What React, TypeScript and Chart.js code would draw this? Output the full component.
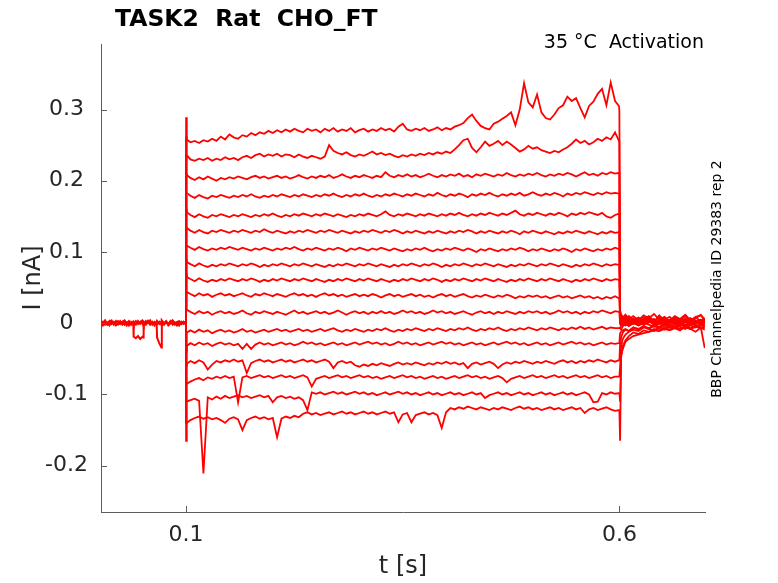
import { useEffect, useRef } from "react";
import { Chart, registerables } from "chart.js";

Chart.register(...registerables);

// ---- time bases (s) ----
const tPre = [
  0.0018, 0.004, 0.0065, 0.009, 0.0115, 0.014, 0.0165, 0.019, 0.0215, 0.024,
  0.0265, 0.029, 0.0315, 0.034, 0.0365, 0.039, 0.0395, 0.042, 0.0445, 0.047,
  0.0495, 0.0505, 0.051, 0.0535, 0.056, 0.0585, 0.061, 0.0635, 0.066, 0.0665,
  0.069, 0.0715, 0.072, 0.0745, 0.077, 0.0795, 0.082, 0.0845, 0.087, 0.0895,
  0.092, 0.0945, 0.097, 0.0998,
];

const tOn = [
  0.0998, 0.1, 0.1008,
  0.105, 0.11, 0.115, 0.12, 0.125, 0.13, 0.135, 0.14, 0.145, 0.15,
  0.155, 0.16, 0.165, 0.17, 0.175, 0.18, 0.185, 0.19, 0.195, 0.2,
  0.205, 0.21, 0.215, 0.22, 0.225, 0.23, 0.235, 0.24, 0.245, 0.25,
  0.255, 0.26, 0.265, 0.27, 0.275, 0.28, 0.285, 0.29, 0.295, 0.3,
  0.305, 0.31, 0.315, 0.32, 0.325, 0.33, 0.335, 0.34, 0.345, 0.35,
  0.355, 0.36, 0.365, 0.37, 0.375, 0.38, 0.385, 0.39, 0.395, 0.4,
  0.405, 0.41, 0.415, 0.42, 0.425, 0.43, 0.435, 0.44, 0.445, 0.45,
  0.455, 0.46, 0.465, 0.47, 0.475, 0.48, 0.485, 0.49, 0.495, 0.5,
  0.505, 0.51, 0.515, 0.52, 0.525, 0.53, 0.535, 0.54, 0.545, 0.55,
  0.555, 0.56, 0.565, 0.57, 0.575, 0.58, 0.585, 0.59, 0.595,
  0.5995,
];

const tOff = [
  0.6, 0.6008, 0.602, 0.604, 0.607, 0.611, 0.616, 0.622, 0.628, 0.634,
  0.64, 0.646, 0.652, 0.658, 0.664, 0.67, 0.676, 0.682, 0.688, 0.694, 0.6985,
];

// ---- holding current before the step (nA) ----
const preA = [
  0.002, -0.003, 0.001, -0.002, 0.003, -0.001, 0.002, -0.003, 0.0, 0.003,
  -0.002, 0.001, -0.003, 0.002, -0.001, 0.001, -0.019, -0.021, -0.018, -0.022,
  -0.019, -0.02, 0.001, -0.002, 0.003, -0.001, 0.002, -0.003, 0.001, -0.001,
  0.002, -0.002, 0.003, -0.001, 0.002, -0.003, 0.0, 0.003, -0.002, 0.001,
  -0.003, 0.002, -0.001, 0.0,
];
const preB = [
  -0.001, 0.002, -0.002, 0.001, -0.003, 0.002, -0.001, 0.003, -0.002, 0.0,
  0.002, -0.002, 0.001, -0.003, 0.002, -0.001, 0.001, -0.002, 0.003, -0.001,
  0.001, -0.002, 0.002, -0.001, 0.003, -0.002, 0.001, -0.001, 0.002, -0.02,
  -0.028, -0.034, 0.001, -0.002, 0.002, -0.001, 0.003, -0.002, 0.001, -0.003,
  0.002, -0.001, 0.002, 0.0,
];
const preC = [
  0.003, 0.0, 0.004, -0.001, 0.002, 0.004, -0.002, 0.001, 0.003, -0.001,
  0.002, 0.004, 0.0, 0.003, -0.002, 0.002, 0.0, 0.003, -0.001, 0.002,
  0.004, 0.001, -0.001, 0.003, 0.0, 0.004, -0.002, 0.002, 0.0, 0.003,
  -0.001, 0.002, 0.004, 0.0, 0.003, -0.002, 0.001, 0.004, 0.0, 0.002,
  0.003, -0.001, 0.002, 0.0,
];

// ---- sweeps: values on tOn followed by values on tOff (nA) ----
const sweep01 = [
  0.0, 0.289, 0.258,
  0.254, 0.256, 0.253, 0.257, 0.255, 0.259, 0.256, 0.262, 0.258, 0.265,
  0.261, 0.259, 0.264, 0.262, 0.267, 0.264, 0.268, 0.266, 0.27, 0.267,
  0.271, 0.268, 0.272, 0.269, 0.273, 0.27, 0.268, 0.273, 0.27, 0.272,
  0.268, 0.273, 0.27, 0.274, 0.269, 0.272, 0.27, 0.274, 0.268, 0.271,
  0.273, 0.269, 0.272, 0.27, 0.274, 0.271, 0.273, 0.269, 0.276, 0.28,
  0.272, 0.27, 0.273, 0.271, 0.274, 0.27, 0.272, 0.275, 0.271, 0.274,
  0.272, 0.276, 0.278, 0.281, 0.288, 0.293, 0.284, 0.277, 0.274, 0.272,
  0.28, 0.283, 0.287, 0.291, 0.296, 0.278, 0.3, 0.337, 0.31, 0.303,
  0.321, 0.296, 0.288, 0.286, 0.293, 0.302, 0.306, 0.318, 0.312, 0.316,
  0.302, 0.289, 0.305, 0.311, 0.322, 0.329, 0.306, 0.338, 0.312,
  0.305,
  0.298, 0.016, 0.011, 0.008, 0.012, 0.006, 0.01, 0.004, 0.011, 0.007,
  0.013, 0.005, 0.009, 0.003, 0.01, 0.006, 0.012, 0.004, 0.009, 0.011, 0.006,
];
const sweep02 = [
  0.001, 0.262, 0.236,
  0.23, 0.228, 0.231, 0.229, 0.232, 0.228, 0.231, 0.229, 0.233, 0.23,
  0.232, 0.229, 0.233, 0.235, 0.232, 0.236, 0.238, 0.234, 0.237, 0.235,
  0.238, 0.234, 0.237, 0.236, 0.233, 0.237, 0.234, 0.232, 0.235, 0.233,
  0.231, 0.234, 0.25, 0.242, 0.239, 0.237, 0.24, 0.236, 0.234, 0.237,
  0.235, 0.238, 0.241, 0.237, 0.239, 0.236, 0.238, 0.235, 0.233, 0.236,
  0.234, 0.237, 0.235, 0.238, 0.236, 0.239, 0.237, 0.24, 0.238, 0.241,
  0.239, 0.244, 0.25, 0.257, 0.259, 0.246, 0.24, 0.247, 0.255, 0.249,
  0.252, 0.256, 0.25, 0.255, 0.251, 0.246, 0.241, 0.244, 0.249, 0.245,
  0.247, 0.243, 0.241, 0.239, 0.242, 0.24, 0.244, 0.247, 0.252, 0.258,
  0.253, 0.256, 0.251, 0.254, 0.259, 0.256, 0.261, 0.258, 0.268,
  0.256,
  0.256, 0.012, 0.008, 0.004, 0.009, 0.003, 0.007, 0.001, 0.006, 0.01,
  0.003, 0.008, 0.0, 0.005, 0.009, 0.002, 0.006, 0.001, 0.008, 0.003, 0.006,
];
const sweep03 = [
  -0.001, 0.235, 0.208,
  0.204, 0.201, 0.205, 0.202, 0.206, 0.203, 0.2, 0.204, 0.202, 0.205,
  0.203, 0.206, 0.204, 0.202, 0.205, 0.207, 0.204, 0.206, 0.203, 0.205,
  0.207, 0.204, 0.206, 0.203, 0.205, 0.208, 0.205, 0.203, 0.206, 0.204,
  0.207, 0.205, 0.208, 0.204, 0.206, 0.209, 0.206, 0.204, 0.207, 0.205,
  0.208, 0.206, 0.204, 0.207, 0.205, 0.212, 0.207, 0.205, 0.208, 0.206,
  0.209, 0.206, 0.208, 0.205, 0.207, 0.21, 0.207, 0.205, 0.208, 0.206,
  0.209, 0.207, 0.21, 0.206, 0.208, 0.205, 0.209, 0.207, 0.21, 0.208,
  0.206, 0.209, 0.207, 0.211, 0.208, 0.206, 0.209, 0.207, 0.21, 0.208,
  0.211, 0.208, 0.206, 0.209, 0.207, 0.21, 0.208, 0.211, 0.209, 0.206,
  0.209, 0.212, 0.208, 0.21, 0.207, 0.211, 0.209, 0.212, 0.21,
  0.211,
  0.211, 0.018, 0.012, 0.009, 0.005, 0.01, 0.004, 0.008, 0.003, 0.009,
  0.002, 0.011, 0.004, 0.001, 0.008, 0.003, 0.01, 0.002, 0.007, 0.012, 0.003,
];
const sweep04 = [
  0.002, 0.21, 0.183,
  0.179, 0.176, 0.18, 0.177, 0.175, 0.179, 0.177, 0.18, 0.178, 0.176,
  0.179, 0.177, 0.18, 0.178, 0.181, 0.178, 0.176, 0.179, 0.177, 0.18,
  0.178, 0.181, 0.179, 0.177, 0.18, 0.178, 0.181, 0.179, 0.177, 0.18,
  0.178, 0.181, 0.179, 0.182, 0.179, 0.177, 0.18, 0.178, 0.181, 0.179,
  0.182, 0.179, 0.177, 0.18, 0.178, 0.181, 0.179, 0.182, 0.18, 0.178,
  0.181, 0.179, 0.182, 0.18, 0.178, 0.181, 0.179, 0.183, 0.18, 0.178,
  0.181, 0.179, 0.182, 0.18, 0.177, 0.181, 0.179, 0.182, 0.18, 0.183,
  0.18, 0.178, 0.181, 0.179, 0.182, 0.18, 0.183, 0.179, 0.181, 0.184,
  0.181, 0.179, 0.182, 0.18, 0.183, 0.181, 0.178, 0.182, 0.18, 0.183,
  0.181, 0.184, 0.182, 0.18, 0.183, 0.181, 0.184, 0.182, 0.183,
  0.182,
  0.182, 0.013, 0.008, 0.005, 0.003, 0.007, 0.002, 0.005, 0.008, 0.003,
  0.006, 0.001, 0.005, 0.009, 0.002, 0.006, 0.003, 0.007, 0.001, 0.004, 0.006,
];
const sweep05 = [
  -0.002, 0.18, 0.156,
  0.152, 0.149, 0.153, 0.15, 0.148, 0.152, 0.15, 0.153, 0.151, 0.149,
  0.152, 0.15, 0.153, 0.151, 0.149, 0.152, 0.15, 0.153, 0.151, 0.154,
  0.151, 0.149, 0.152, 0.15, 0.153, 0.151, 0.154, 0.152, 0.15, 0.153,
  0.151, 0.154, 0.152, 0.15, 0.153, 0.151, 0.149, 0.152, 0.15, 0.153,
  0.151, 0.154, 0.152, 0.15, 0.153, 0.157, 0.152, 0.15, 0.153, 0.151,
  0.154, 0.152, 0.15, 0.153, 0.151, 0.154, 0.152, 0.15, 0.153, 0.151,
  0.154, 0.152, 0.155, 0.152, 0.15, 0.153, 0.151, 0.154, 0.152, 0.155,
  0.153, 0.151, 0.154, 0.152, 0.155, 0.158, 0.153, 0.151, 0.154, 0.152,
  0.155, 0.153, 0.151, 0.154, 0.152, 0.155, 0.153, 0.15, 0.154, 0.152,
  0.155, 0.153, 0.156, 0.154, 0.152, 0.155, 0.15, 0.148, 0.152,
  0.154,
  0.154, 0.011, 0.006, 0.004, 0.007, 0.002, 0.005, 0.001, 0.004, 0.007,
  0.003, 0.0, 0.005, 0.002, 0.006, 0.001, 0.004, 0.007, 0.002, 0.005, 0.003,
];
const sweep06 = [
  0.001, 0.16, 0.134,
  0.13, 0.127, 0.131, 0.128, 0.126, 0.13, 0.128, 0.131, 0.129, 0.127,
  0.13, 0.128, 0.131, 0.129, 0.127, 0.13, 0.128, 0.132, 0.129, 0.127,
  0.13, 0.128, 0.126, 0.129, 0.127, 0.13, 0.128, 0.131, 0.129, 0.127,
  0.13, 0.128, 0.131, 0.129, 0.127, 0.13, 0.128, 0.126, 0.129, 0.127,
  0.13, 0.128, 0.131, 0.129, 0.127, 0.13, 0.128, 0.131, 0.129, 0.126,
  0.129, 0.127, 0.13, 0.128, 0.126, 0.129, 0.127, 0.13, 0.128, 0.126,
  0.129, 0.127, 0.13, 0.128, 0.131, 0.129, 0.126, 0.129, 0.127, 0.13,
  0.128, 0.126, 0.129, 0.127, 0.13, 0.128, 0.125, 0.129, 0.127, 0.13,
  0.128, 0.126, 0.129, 0.127, 0.125, 0.128, 0.126, 0.129, 0.127, 0.13,
  0.128, 0.126, 0.129, 0.127, 0.125, 0.128, 0.126, 0.129, 0.127,
  0.128,
  0.128, 0.009, 0.005, 0.002, 0.006, 0.001, 0.004, 0.007, 0.002, 0.005,
  0.0, 0.004, 0.006, 0.001, 0.005, 0.002, 0.006, 0.003, 0.0, 0.004, 0.002,
];
const sweep07 = [
  -0.001, 0.135, 0.109,
  0.106, 0.103, 0.107, 0.104, 0.102, 0.105, 0.103, 0.106, 0.104, 0.107,
  0.105, 0.103, 0.106, 0.104, 0.102, 0.105, 0.103, 0.106, 0.104, 0.102,
  0.105, 0.103, 0.106, 0.104, 0.107, 0.104, 0.102, 0.105, 0.103, 0.106,
  0.104, 0.102, 0.105, 0.103, 0.106, 0.104, 0.101, 0.105, 0.103, 0.106,
  0.104, 0.102, 0.105, 0.103, 0.106, 0.104, 0.102, 0.105, 0.103, 0.101,
  0.104, 0.102, 0.105, 0.103, 0.106, 0.103, 0.101, 0.104, 0.102, 0.105,
  0.103, 0.106, 0.104, 0.102, 0.105, 0.103, 0.1, 0.104, 0.102, 0.105,
  0.103, 0.101, 0.104, 0.102, 0.105, 0.103, 0.106, 0.104, 0.101, 0.104,
  0.102, 0.105, 0.103, 0.101, 0.104, 0.102, 0.105, 0.103, 0.1, 0.104,
  0.102, 0.105, 0.103, 0.101, 0.104, 0.102, 0.105, 0.103, 0.106,
  0.104,
  0.104, 0.007, 0.003, 0.001, 0.005, -0.001, 0.003, 0.006, 0.001, 0.004,
  -0.002, 0.003, 0.006, 0.0, 0.004, 0.001, 0.005, 0.002, -0.001, 0.003, 0.001,
];
const sweep08 = [
  0.002, 0.11, 0.086,
  0.083, 0.08, 0.084, 0.081, 0.079, 0.082, 0.08, 0.083, 0.081, 0.084,
  0.082, 0.08, 0.083, 0.081, 0.084, 0.082, 0.079, 0.082, 0.08, 0.083,
  0.081, 0.084, 0.082, 0.08, 0.083, 0.081, 0.084, 0.082, 0.08, 0.083,
  0.081, 0.079, 0.082, 0.08, 0.083, 0.081, 0.084, 0.082, 0.08, 0.083,
  0.081, 0.084, 0.082, 0.08, 0.083, 0.081, 0.079, 0.082, 0.08, 0.083,
  0.081, 0.084, 0.082, 0.08, 0.083, 0.081, 0.084, 0.082, 0.079, 0.082,
  0.08, 0.083, 0.081, 0.084, 0.082, 0.08, 0.083, 0.081, 0.084, 0.082,
  0.08, 0.083, 0.081, 0.079, 0.082, 0.08, 0.083, 0.081, 0.084, 0.082,
  0.08, 0.083, 0.081, 0.084, 0.082, 0.08, 0.083, 0.081, 0.079, 0.082,
  0.08, 0.083, 0.081, 0.084, 0.082, 0.08, 0.083, 0.081, 0.083,
  0.082,
  0.082, 0.005, 0.002, -0.001, 0.003, 0.0, 0.004, -0.002, 0.002, 0.005,
  0.0, 0.003, -0.001, 0.004, 0.001, -0.002, 0.003, 0.0, 0.004, 0.001, 0.002,
];
const sweep09 = [
  -0.002, 0.09, 0.065,
  0.062, 0.059, 0.063, 0.06, 0.058, 0.061, 0.059, 0.062, 0.06, 0.063,
  0.061, 0.059, 0.062, 0.06, 0.063, 0.061, 0.058, 0.061, 0.059, 0.062,
  0.06, 0.063, 0.061, 0.059, 0.062, 0.06, 0.063, 0.061, 0.059, 0.062,
  0.06, 0.058, 0.061, 0.059, 0.062, 0.06, 0.063, 0.061, 0.059, 0.062,
  0.06, 0.063, 0.061, 0.059, 0.062, 0.06, 0.058, 0.061, 0.059, 0.062,
  0.06, 0.063, 0.061, 0.059, 0.062, 0.06, 0.063, 0.061, 0.058, 0.061,
  0.059, 0.062, 0.06, 0.063, 0.061, 0.059, 0.062, 0.06, 0.063, 0.061,
  0.059, 0.062, 0.06, 0.058, 0.061, 0.059, 0.062, 0.06, 0.063, 0.061,
  0.059, 0.062, 0.06, 0.063, 0.061, 0.059, 0.062, 0.06, 0.058, 0.061,
  0.059, 0.062, 0.06, 0.063, 0.061, 0.059, 0.062, 0.06, 0.062,
  0.061,
  0.061, 0.003, 0.0, -0.002, 0.002, -0.001, 0.003, -0.003, 0.001, 0.004,
  -0.001, 0.002, -0.002, 0.003, 0.0, -0.003, 0.002, -0.001, 0.003, 0.0, 0.001,
];
const sweep10 = [
  0.001, 0.07, 0.044,
  0.041, 0.038, 0.042, 0.039, 0.041, 0.037, 0.04, 0.042, 0.039, 0.041,
  0.038, 0.04, 0.042, 0.039, 0.037, 0.041, 0.039, 0.042, 0.04, 0.038,
  0.041, 0.039, 0.037, 0.04, 0.042, 0.039, 0.041, 0.038, 0.04, 0.037,
  0.04, 0.042, 0.039, 0.041, 0.038, 0.04, 0.037, 0.039, 0.041, 0.038,
  0.04, 0.038, 0.041, 0.039, 0.036, 0.039, 0.041, 0.038, 0.04, 0.037,
  0.039, 0.041, 0.038, 0.04, 0.037, 0.039, 0.036, 0.039, 0.041, 0.038,
  0.04, 0.037, 0.039, 0.041, 0.038, 0.036, 0.039, 0.037, 0.04, 0.038,
  0.036, 0.039, 0.037, 0.04, 0.038, 0.035, 0.038, 0.036, 0.039, 0.037,
  0.039, 0.036, 0.038, 0.035, 0.037, 0.039, 0.036, 0.038, 0.035, 0.037,
  0.039, 0.036, 0.038, 0.035, 0.037, 0.034, 0.037, 0.035, 0.038,
  0.035,
  0.035, 0.002, -0.002, 0.001, -0.003, 0.002, -0.001, 0.003, -0.002, 0.001,
  0.004, -0.001, 0.002, -0.003, 0.001, 0.003, -0.002, 0.001, -0.001, 0.002, 0.0,
];
const sweep11 = [
  -0.001, 0.045, 0.019,
  0.016, 0.013, 0.017, 0.014, 0.016, 0.012, 0.015, 0.017, 0.014, 0.016,
  0.013, 0.015, 0.018, 0.014, 0.012, 0.016, 0.014, 0.017, 0.015, 0.013,
  0.016, 0.014, 0.012, 0.015, 0.018, 0.014, 0.016, 0.013, 0.015, 0.017,
  0.014, 0.016, 0.013, 0.015, 0.018, 0.015, 0.012, 0.015, 0.017, 0.014,
  0.016, 0.013, 0.016, 0.014, 0.017, 0.014, 0.016, 0.013, 0.015, 0.018,
  0.015, 0.017, 0.014, 0.016, 0.013, 0.015, 0.018, 0.015, 0.017, 0.014,
  0.016, 0.013, 0.015, 0.017, 0.014, 0.012, 0.015, 0.017, 0.014, 0.016,
  0.013, 0.016, 0.014, 0.017, 0.015, 0.013, 0.016, 0.014, 0.017, 0.015,
  0.017, 0.014, 0.016, 0.013, 0.015, 0.018, 0.015, 0.017, 0.014, 0.016,
  0.013, 0.016, 0.014, 0.017, 0.015, 0.018, 0.016, 0.014, 0.017,
  0.016,
  0.016, -0.001, -0.004, -0.001, 0.002, -0.002, 0.001, -0.003, 0.0, 0.003,
  -0.002, 0.001, -0.003, 0.002, -0.001, 0.001, -0.004, 0.0, 0.002, -0.002, 0.0,
];
const sweep12 = [
  0.002, -0.04, -0.013,
  -0.01, -0.013, -0.009, -0.012, -0.01, -0.014, -0.011, -0.009, -0.012, -0.01,
  -0.013, -0.011, -0.008, -0.012, -0.01, -0.013, -0.011, -0.009, -0.012, -0.01,
  -0.008, -0.011, -0.009, -0.012, -0.01, -0.008, -0.011, -0.009, -0.012, -0.01,
  -0.008, -0.011, -0.009, -0.007, -0.01, -0.012, -0.009, -0.011, -0.008, -0.01,
  -0.012, -0.009, -0.011, -0.008, -0.01, -0.007, -0.01, -0.012, -0.009, -0.011,
  -0.008, -0.01, -0.007, -0.009, -0.011, -0.008, -0.01, -0.007, -0.009, -0.011,
  -0.008, -0.01, -0.007, -0.009, -0.006, -0.009, -0.011, -0.008, -0.01, -0.007,
  -0.009, -0.006, -0.009, -0.011, -0.008, -0.01, -0.007, -0.009, -0.006, -0.008,
  -0.01, -0.007, -0.009, -0.006, -0.008, -0.01, -0.007, -0.009, -0.006, -0.008,
  -0.005, -0.008, -0.006, -0.009, -0.007, -0.005, -0.008, -0.006, -0.007,
  -0.007,
  -0.007, -0.006, -0.009, -0.004, -0.001, -0.004, 0.0, -0.003, 0.001, -0.002,
  -0.005, 0.0, -0.003, 0.002, -0.002, 0.0, -0.004, -0.001, 0.001, -0.003, -0.001,
];
const sweep13 = [
  -0.001, -0.06, -0.032,
  -0.028, -0.031, -0.027, -0.03, -0.028, -0.032, -0.029, -0.027, -0.03, -0.028,
  -0.031, -0.029, -0.036, -0.029, -0.036, -0.03, -0.027, -0.03, -0.028, -0.031,
  -0.029, -0.027, -0.03, -0.028, -0.031, -0.029, -0.026, -0.029, -0.027, -0.03,
  -0.028, -0.031, -0.029, -0.027, -0.03, -0.028, -0.031, -0.029, -0.027, -0.03,
  -0.028, -0.026, -0.029, -0.027, -0.03, -0.028, -0.031, -0.029, -0.026, -0.029,
  -0.027, -0.03, -0.028, -0.031, -0.029, -0.027, -0.03, -0.028, -0.026, -0.029,
  -0.027, -0.03, -0.028, -0.031, -0.029, -0.027, -0.03, -0.028, -0.031, -0.029,
  -0.027, -0.03, -0.028, -0.026, -0.029, -0.027, -0.03, -0.028, -0.031, -0.029,
  -0.027, -0.03, -0.028, -0.031, -0.029, -0.027, -0.03, -0.028, -0.026, -0.029,
  -0.027, -0.03, -0.028, -0.031, -0.029, -0.027, -0.03, -0.028, -0.029,
  -0.028,
  -0.028, -0.014, -0.012, -0.01, -0.008, -0.011, -0.006, -0.009, -0.004, -0.008,
  -0.011, -0.005, -0.009, -0.003, -0.007, -0.01, -0.004, -0.008, -0.012, -0.006, -0.009,
];
const sweep14 = [
  0.001, -0.085, -0.057,
  -0.053, -0.056, -0.052, -0.055, -0.065, -0.058, -0.053, -0.055, -0.052, -0.054,
  -0.051, -0.054, -0.052, -0.07, -0.056, -0.053, -0.051, -0.054, -0.052, -0.055,
  -0.053, -0.051, -0.054, -0.052, -0.055, -0.053, -0.051, -0.054, -0.052, -0.055,
  -0.053, -0.051, -0.054, -0.063, -0.055, -0.053, -0.056, -0.054, -0.059, -0.061,
  -0.058, -0.06, -0.057, -0.059, -0.056, -0.058, -0.06, -0.057, -0.055, -0.058,
  -0.056, -0.058, -0.055, -0.057, -0.059, -0.056, -0.058, -0.055, -0.057, -0.054,
  -0.057, -0.055, -0.058, -0.056, -0.063, -0.057, -0.055, -0.058, -0.056, -0.054,
  -0.057, -0.063, -0.058, -0.055, -0.057, -0.054, -0.056, -0.053, -0.055, -0.057,
  -0.054, -0.056, -0.053, -0.055, -0.057, -0.054, -0.052, -0.055, -0.053, -0.056,
  -0.053, -0.055, -0.052, -0.054, -0.051, -0.053, -0.055, -0.052, -0.054,
  -0.052,
  -0.052, -0.03, -0.02, -0.013, -0.009, -0.011, -0.006, -0.008, -0.004, -0.007,
  -0.002, -0.005, -0.001, -0.004, -0.007, -0.002, -0.005, 0.0, -0.003, -0.006, -0.035,
];
const sweep15 = [
  -0.002, -0.11, -0.085,
  -0.082, -0.079, -0.077, -0.08, -0.076, -0.078, -0.075, -0.077, -0.074, -0.077,
  -0.075, -0.111, -0.076, -0.074, -0.077, -0.075, -0.073, -0.076, -0.074, -0.077,
  -0.075, -0.073, -0.076, -0.074, -0.077, -0.075, -0.073, -0.076, -0.089, -0.078,
  -0.076, -0.074, -0.077, -0.075, -0.073, -0.076, -0.074, -0.077, -0.075, -0.073,
  -0.076, -0.074, -0.077, -0.075, -0.078, -0.076, -0.074, -0.077, -0.075, -0.073,
  -0.076, -0.074, -0.077, -0.075, -0.078, -0.076, -0.074, -0.077, -0.075, -0.078,
  -0.076, -0.074, -0.077, -0.075, -0.073, -0.076, -0.074, -0.077, -0.075, -0.078,
  -0.076, -0.074, -0.077, -0.083, -0.078, -0.076, -0.074, -0.077, -0.075, -0.073,
  -0.076, -0.074, -0.077, -0.075, -0.073, -0.076, -0.074, -0.077, -0.075, -0.073,
  -0.076, -0.074, -0.077, -0.075, -0.073, -0.076, -0.074, -0.077, -0.075,
  -0.075,
  -0.075, -0.062, -0.032, -0.022, -0.016, -0.012, -0.009, -0.011, -0.006, -0.008,
  -0.004, -0.007, -0.003, -0.006, -0.002, -0.005, -0.008, -0.003, -0.006, -0.001, -0.004,
];
const sweep16 = [
  0.0, -0.14, -0.11,
  -0.108, -0.106, -0.109, -0.211, -0.104, -0.107, -0.103, -0.106, -0.102, -0.105,
  -0.103, -0.101, -0.104, -0.102, -0.105, -0.103, -0.101, -0.104, -0.102, -0.111,
  -0.104, -0.102, -0.105, -0.103, -0.106, -0.104, -0.108, -0.122, -0.097, -0.099,
  -0.097, -0.1, -0.098, -0.096, -0.099, -0.097, -0.1, -0.098, -0.096, -0.099,
  -0.097, -0.1, -0.098, -0.101, -0.099, -0.097, -0.1, -0.098, -0.096, -0.099,
  -0.097, -0.1, -0.098, -0.101, -0.099, -0.097, -0.1, -0.098, -0.101, -0.099,
  -0.097, -0.1, -0.098, -0.101, -0.099, -0.097, -0.1, -0.098, -0.105, -0.101,
  -0.099, -0.097, -0.1, -0.098, -0.101, -0.099, -0.097, -0.1, -0.098, -0.101,
  -0.099, -0.097, -0.1, -0.098, -0.101, -0.099, -0.097, -0.1, -0.098, -0.101,
  -0.099, -0.097, -0.1, -0.111, -0.11, -0.098, -0.1, -0.097, -0.099,
  -0.098,
  -0.098, -0.11, -0.048, -0.032, -0.024, -0.018, -0.013, -0.015, -0.01, -0.012,
  -0.008, -0.01, -0.006, -0.009, -0.005, -0.008, -0.004, -0.007, -0.003, -0.006, -0.004,
];
const sweep17 = [
  0.001, -0.165, -0.14,
  -0.136, -0.133, -0.131, -0.134, -0.132, -0.135, -0.133, -0.136, -0.14, -0.134,
  -0.132, -0.135, -0.15, -0.136, -0.133, -0.131, -0.134, -0.132, -0.135, -0.133,
  -0.16, -0.134, -0.131, -0.133, -0.13, -0.132, -0.127, -0.125, -0.128, -0.126,
  -0.129, -0.127, -0.125, -0.128, -0.126, -0.124, -0.127, -0.125, -0.128, -0.126,
  -0.124, -0.127, -0.125, -0.128, -0.126, -0.124, -0.127, -0.125, -0.139, -0.128,
  -0.126, -0.139, -0.129, -0.127, -0.125, -0.128, -0.126, -0.129, -0.147, -0.125,
  -0.119, -0.121, -0.118, -0.12, -0.117, -0.119, -0.121, -0.118, -0.12, -0.122,
  -0.119, -0.121, -0.118, -0.12, -0.122, -0.119, -0.117, -0.12, -0.118, -0.121,
  -0.119, -0.122, -0.12, -0.118, -0.121, -0.119, -0.122, -0.12, -0.118, -0.121,
  -0.119, -0.126, -0.121, -0.119, -0.122, -0.12, -0.118, -0.121, -0.123,
  -0.122,
  -0.122, -0.165, -0.045, -0.036, -0.026, -0.022, -0.018, -0.016, -0.014, -0.012,
  -0.01, -0.011, -0.008, -0.01, -0.007, -0.009, -0.006, -0.008, -0.005, -0.007, -0.006,
];

const sweeps = [
  sweep01, sweep02, sweep03, sweep04, sweep05, sweep06, sweep07, sweep08, sweep09,
  sweep10, sweep11, sweep12, sweep13, sweep14, sweep15, sweep16, sweep17,
];
const preSweeps = [preA, preB, preC];

// ---- axes ----
const xTickValues = [0.1, 0.6];
const xTickLabels = ["0.1", "0.6"];
const yTickValues = [-0.2, -0.1, 0, 0.1, 0.2, 0.3];
const yTickLabels = ["-0.2", "-0.1", "0", "0.1", "0.2", "0.3"];
const xRange = [0.0018, 0.6988];
const yRange = [-0.265, 0.392];

const titleText = "TASK2  Rat  CHO_FT";
const conditionText = "35 °C  Activation";
const sideText = "BBP Channelpedia ID 29383 rep 2";
const xAxisLabel = "t [s]";
const yAxisLabel = "I [nA]";

const FONT = "'DejaVu Sans', 'Liberation Sans', sans-serif";
const RED = "#ff0000";
const AXIS = "#5c5c5c";
const TEXT = "#262626";

function toPoints(ts: number[], vs: number[]) {
  const n = Math.min(ts.length, vs.length);
  const out: { x: number; y: number }[] = [];
  for (let i = 0; i < n; i++) out.push({ x: ts[i], y: vs[i] });
  return out;
}

const decorPlugin = {
  id: "decor",
  afterDraw(chart: any) {
    const { ctx, chartArea, scales } = chart;
    ctx.save();
    // inward tick marks
    ctx.strokeStyle = AXIS;
    ctx.lineWidth = 1;
    xTickValues.forEach((v) => {
      const px = Math.round(scales.x.getPixelForValue(v)) + 0.5;
      ctx.beginPath();
      ctx.moveTo(px, chartArea.bottom);
      ctx.lineTo(px, chartArea.bottom - 6);
      ctx.stroke();
    });
    yTickValues.forEach((v) => {
      const py = Math.round(scales.y.getPixelForValue(v)) + 0.5;
      ctx.beginPath();
      ctx.moveTo(chartArea.left, py);
      ctx.lineTo(chartArea.left + 6, py);
      ctx.stroke();
    });

    // title
    ctx.fillStyle = "#000";
    ctx.font = `bold 23.5px ${FONT}`;
    ctx.textAlign = "left";
    ctx.textBaseline = "alphabetic";
    ctx.fillText(titleText, 115, 26);

    // condition
    ctx.fillStyle = "#000";
    ctx.font = `19px ${FONT}`;
    ctx.textAlign = "right";
    ctx.fillText(conditionText, 704, 48);

    // axis titles
    ctx.fillStyle = TEXT;
    ctx.font = `24px ${FONT}`;
    ctx.textAlign = "center";
    ctx.textBaseline = "middle";
    ctx.fillText(xAxisLabel, (chartArea.left + chartArea.right) / 2, 567);

    ctx.save();
    ctx.translate(34, (chartArea.top + chartArea.bottom) / 2);
    ctx.rotate(-Math.PI / 2);
    ctx.fillText(yAxisLabel, 0, 0);
    ctx.restore();

    // side note
    ctx.save();
    ctx.fillStyle = "#000";
    ctx.font = `14px ${FONT}`;
    ctx.translate(717, 279);
    ctx.rotate(-Math.PI / 2);
    ctx.textAlign = "center";
    ctx.textBaseline = "middle";
    ctx.fillText(sideText, 0, 0);
    ctx.restore();

    ctx.restore();
  },
};

export default function App() {
  const canvasRef = useRef<HTMLCanvasElement | null>(null);

  useEffect(() => {
    const canvas = canvasRef.current;
    if (!canvas) return;
    const tSweep = [...tOn, ...tOff];
    const datasets: any[] = [];
    preSweeps.forEach((vals, i) => {
      datasets.push({
        label: `pre${i + 1}`,
        data: toPoints(tPre, vals),
        borderColor: RED,
        borderWidth: 2,
        pointRadius: 0,
        tension: 0,
        fill: false,
      });
    });
    sweeps.forEach((vals, i) => {
      datasets.push({
        label: `sweep${i + 1}`,
        data: toPoints(tSweep, vals),
        borderColor: RED,
        borderWidth: 1.8,
        pointRadius: 0,
        tension: 0,
        fill: false,
      });
    });

    const chart = new Chart(canvas, {
      type: "line",
      data: { datasets },
      options: {
        responsive: false,
        animation: false,
        maintainAspectRatio: false,
        layout: { padding: { top: 44, right: 73, left: 0, bottom: 0 } },
        plugins: {
          legend: { display: false },
          tooltip: { enabled: false },
          title: { display: false },
        },
        scales: {
          x: {
            type: "linear",
            min: xRange[0],
            max: xRange[1],
            afterBuildTicks: (scale: any) => {
              scale.ticks = xTickValues.map((v) => ({ value: v }));
            },
            afterFit: (scale: any) => {
              scale.height = 71;
            },
            grid: { display: true, drawOnChartArea: false, drawTicks: false },
            border: { display: true, color: AXIS, width: 1 },
            ticks: {
              autoSkip: false,
              maxRotation: 0,
              padding: 10,
              color: TEXT,
              font: { family: FONT, size: 22 },
              callback: (_v: any, i: number) => xTickLabels[i],
            },
          },
          y: {
            type: "linear",
            min: yRange[0],
            max: yRange[1],
            afterBuildTicks: (scale: any) => {
              scale.ticks = yTickValues.map((v) => ({ value: v }));
            },
            afterFit: (scale: any) => {
              scale.width = 101;
            },
            grid: { display: true, drawOnChartArea: false, drawTicks: false },
            border: { display: true, color: AXIS, width: 1 },
            ticks: {
              autoSkip: false,
              padding: 13,
              crossAlign: "center",
              color: TEXT,
              font: { family: FONT, size: 22 },
              callback: (_v: any, i: number) => yTickLabels[i],
            },
          },
        },
      },
      plugins: [decorPlugin],
    });
    return () => chart.destroy();
  }, []);

  return (
    <div style={{ position: "absolute", left: 0, top: 0, width: 778, height: 583, background: "#fff" }}>
      <canvas ref={canvasRef} width={778} height={583} />
    </div>
  );
}
